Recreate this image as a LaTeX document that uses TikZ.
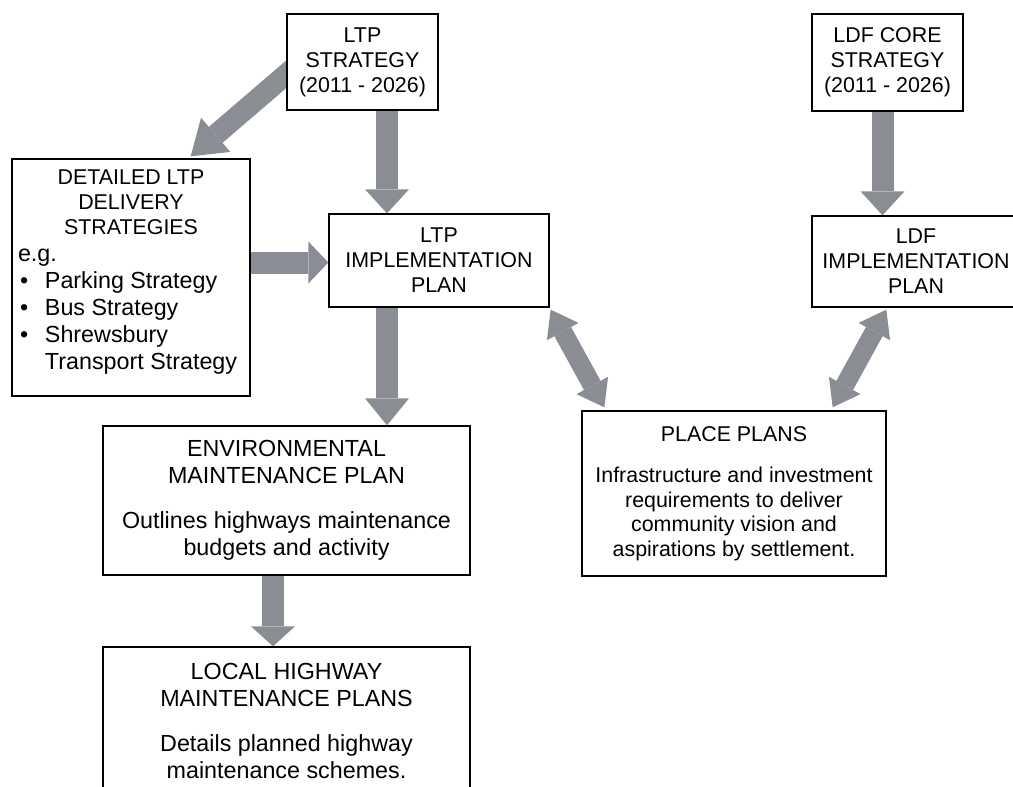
\documentclass[tikz,border=0pt]{standalone}
\usepackage{fontspec}
\setmainfont{Liberation Sans}
\usetikzlibrary{arrows.meta,calc}
\definecolor{arrowgray}{RGB}{138,141,148}
\pgfdeclarelayer{bg}
\pgfsetlayers{bg,main}
\newcommand\sza{\fontsize{21.4}{25}\selectfont}
\newcommand\szb{\fontsize{23.3}{26.5}\selectfont}
\newcommand\szc{\fontsize{21.4}{24.5}\selectfont}
\newcommand\szd{\fontsize{23.3}{27}\selectfont}
\newcommand\bitem{\noindent\makebox[27pt][l]{\hspace{2pt}\textbullet}}
\begin{document}
\begin{tikzpicture}[x=1pt,y=-1pt,
  box/.style={draw=black, line width=1.3pt, fill=white, inner sep=0pt, align=center},
  fat/.style={draw=arrowgray, line width=22pt, -{Triangle[length=24pt,width=44pt,line width=0pt]}},
  diag/.style={draw=arrowgray, line width=21pt, -{Triangle[length=33pt,width=45pt,line width=0pt]}},
  dbl/.style={draw=arrowgray, line width=19pt, {Triangle[length=25pt,width=36pt,line width=0pt]}-{Triangle[length=25pt,width=36pt,line width=0pt]}},
]
\clip (0,0) rectangle (1013,787);

\node[box, minimum width=151, minimum height=96, font=\sza] (ltps) at (362.5,62) {LTP\\STRATEGY\\(2011 - 2026)};
\node[box, minimum width=151, minimum height=97, font=\sza] (ldfc) at (887.5,62.5) {LDF CORE\\STRATEGY\\(2011 - 2026)};
\node[box, minimum width=238, minimum height=237, text width=226, align=left] (det) at (131,277.5)
 {\spaceskip=0pt \xspaceskip=0pt
  {\sza\spaceskip=0pt\centering DETAILED LTP\\DELIVERY\\STRATEGIES\par}
  {\szd\spaceskip=0pt\noindent e.g.\par
  \bitem Parking Strategy\par
  \bitem Bus Strategy\par
  \bitem Shrewsbury\par
  \noindent\hspace*{27pt}Transport Strategy\par}\vspace{10pt}\hrule height 0pt width 0pt};
\node[box, minimum width=220, minimum height=93, font=\sza] (ltpi) at (439,260.5) {LTP\\IMPLEMENTATION\\PLAN};
\node[box, minimum width=208, minimum height=91, font=\sza] (ldfi) at (916,261.5) {LDF\\IMPLEMENTATION\\PLAN};
\node[box, minimum width=367, minimum height=149, font=\szb] (env) at (286.5,500.5)
 {ENVIRONMENTAL\\MAINTENANCE PLAN\\[19pt]Outlines highways maintenance\\budgets and activity};
\node[box, minimum width=304, minimum height=165, font=\szc] (place) at (734,493.5)
 {PLACE PLANS\\[17pt]Infrastructure and investment\\requirements to deliver\\community vision and\\aspirations by settlement.};
\node[box, minimum width=367, minimum height=148, font=\szb] (local) at (286.5,721)
 {LOCAL HIGHWAY\\MAINTENANCE PLANS\\[19pt]Details planned highway\\maintenance schemes.};

\coordinate (a1) at ($(ltps.south)+(24.5,0)$);
\coordinate (a2) at ($(ltps.west)+(13,1)$);
\coordinate (a2e) at ($(det.north east)+(-60,-2)$);
\coordinate (a3) at ($(det.east)+(0,-15)$);
\coordinate (a4) at ($(ltpi.south)+(-52,0)$);
\coordinate (a5) at ($(env.south)+(-13.5,0)$);
\coordinate (a6) at ($(ldfc.south)+(-5,0)$);
\coordinate (d1s) at ($(ltpi.south east)+(1,2)$);
\coordinate (d1e) at ($(place.north west)+(23,-3)$);
\coordinate (d2s) at ($(ldfi.south west)+(75,2)$);
\coordinate (d2e) at ($(place.north east)+(-54,-3)$);

\begin{pgfonlayer}{bg}
\draw[fat] (a1) -- (a1 |- ltpi.north);
\draw[diag] (a2) -- (a2e);
\draw[fat, -{Triangle[length=20pt,width=42pt,line width=0pt]}] (a3) -- (a3 -| ltpi.west);
\draw[fat, -{Triangle[length=27pt,width=44pt,line width=0pt]}] (a4) -- (a4 |- env.north);
\draw[fat, -{Triangle[length=20pt,width=44pt,line width=0pt]}] (a5) -- (a5 |- local.north);
\draw[fat] (a6) -- (a6 |- ldfi.north);
\draw[dbl] (d1s) -- (d1e);
\draw[dbl] (d2s) -- (d2e);
\end{pgfonlayer}
\end{tikzpicture}
\end{document}
